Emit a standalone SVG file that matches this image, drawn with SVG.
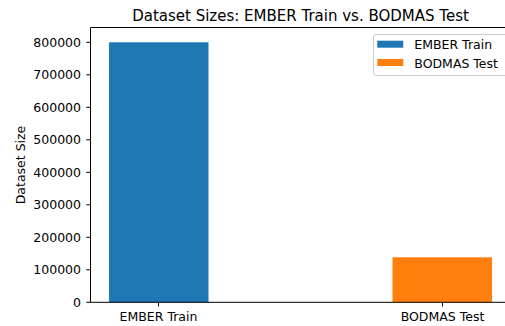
<svg xmlns="http://www.w3.org/2000/svg" width="505" height="326" viewBox="0 0 505 326">
<style>
text{font-family:"DejaVu Sans","Liberation Sans",sans-serif;fill:#000}
.t{font-size:12.5px}
.yt{font-size:12.5px;text-anchor:end}
.xt{font-size:12.5px;text-anchor:middle}
.tk{stroke:#000;stroke-width:1}
</style>
<rect width="505" height="326" fill="#fff"/>
<g id="bars">
<rect x="109" y="42.3" width="99.5" height="260" fill="#1f77b4"/>
<rect x="392.5" y="257.3" width="99.5" height="45" fill="#ff7f0e"/>
</g>
<g id="axes" fill="none" stroke="#000" stroke-width="1">
<path d="M90.5 302.3V27.5H520M90.5 302.3H520"/>
</g>
<g id="yticks">
<path class="tk" d="M86.3 302.3H90.5M86.3 269.8H90.5M86.3 237.3H90.5M86.3 204.8H90.5M86.3 172.3H90.5M86.3 139.8H90.5M86.3 107.3H90.5M86.3 74.8H90.5M86.3 42.3H90.5"/>
<text class="yt" x="81" y="306.8">0</text>
<text class="yt" x="81" y="274.3">100000</text>
<text class="yt" x="81" y="241.8">200000</text>
<text class="yt" x="81" y="209.3">300000</text>
<text class="yt" x="81" y="176.8">400000</text>
<text class="yt" x="81" y="144.3">500000</text>
<text class="yt" x="81" y="111.8">600000</text>
<text class="yt" x="81" y="79.3">700000</text>
<text class="yt" x="81" y="46.8">800000</text>
</g>
<g id="xticks">
<path class="tk" d="M158.5 302.3V306.5M442.5 302.3V306.5"/>
<text class="xt" x="158.5" y="320.5">EMBER Train</text>
<text class="xt" x="442.5" y="320.5">BODMAS Test</text>
</g>
<text id="ylabel" class="t" text-anchor="middle" transform="translate(24.5 165) rotate(-90)">Dataset Size</text>
<text id="title" x="300.5" y="21" font-size="15" text-anchor="middle">Dataset Sizes: EMBER Train vs. BODMAS Test</text>
<g id="legend">
<rect x="373.5" y="34.5" width="140" height="41" rx="2.5" fill="#fff" fill-opacity="0.8" stroke="#ccc" stroke-width="1"/>
<rect x="377.3" y="40.7" width="26" height="7" fill="#1f77b4"/>
<rect x="377.3" y="59" width="26" height="7" fill="#ff7f0e"/>
<text class="t" x="414.3" y="49">EMBER Train</text>
<text class="t" x="414.3" y="67.5">BODMAS Test</text>
</g>
</svg>
